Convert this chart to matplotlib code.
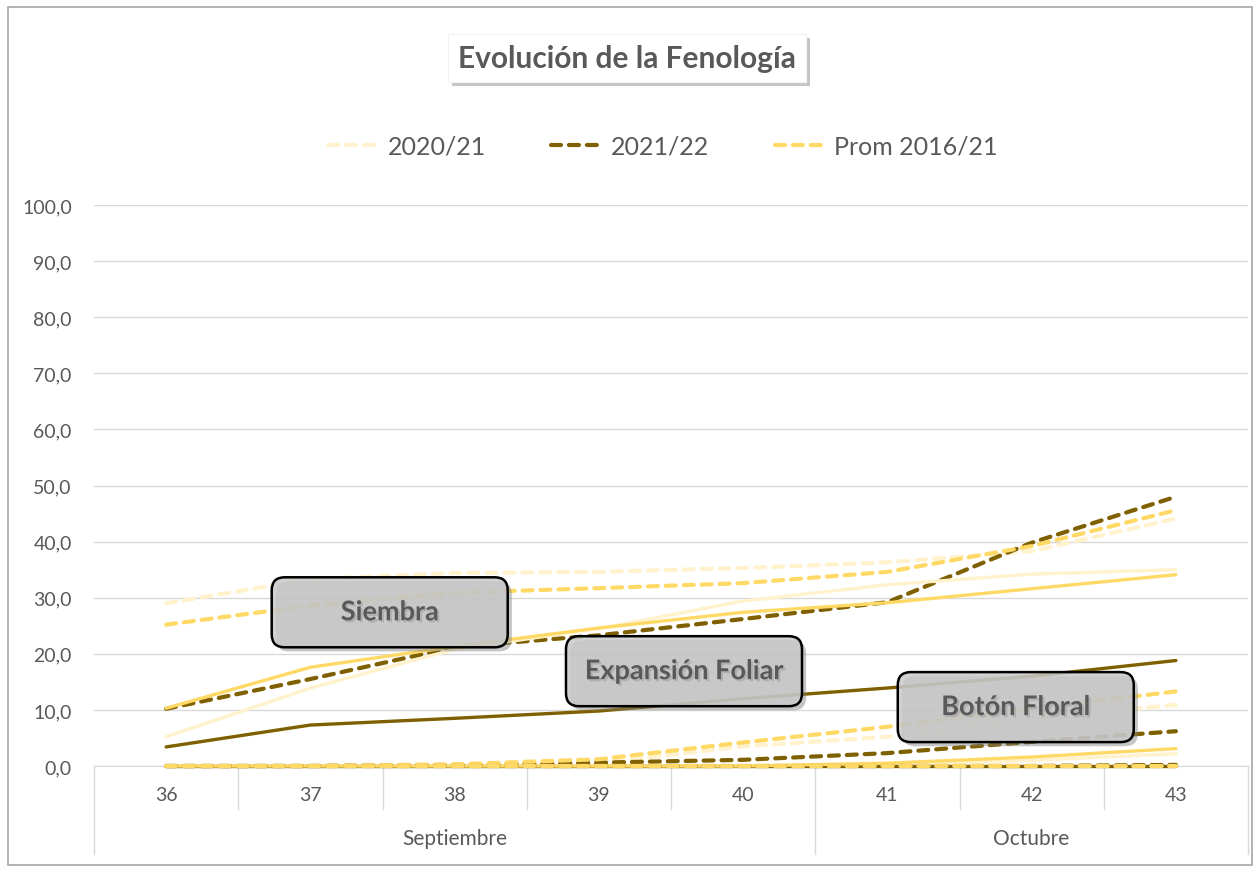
import matplotlib
matplotlib.use("Agg")
import matplotlib.pyplot as plt
import matplotlib.patheffects as pe
from matplotlib.patches import FancyBboxPatch, Rectangle
from matplotlib.lines import Line2D
from matplotlib.transforms import IdentityTransform
from matplotlib.ticker import FuncFormatter

plt.rcParams['font.family'] = ['Lato', 'DejaVu Sans']

# --- datos ---
semanas = ['36', '37', '38', '39', '40', '41', '42', '43']
meses = ['Septiembre', 'Octubre']
semanas_por_mes = [5, 3]
temporadas = ['2020/21', '2021/22', 'Prom 2016/21']

# Siembra (punteadas, arriba)
siembra_2020 = [29.0, 33.3, 34.4, 34.6, 35.3, 36.3, 38.3, 44.1]
siembra_2021 = [10.2, 15.5, 21.2, 23.3, 26.2, 29.2, 39.8, 48.0]
siembra_prom = [25.2, 28.6, 30.9, 31.7, 32.6, 34.6, 39.2, 45.6]

# Emergencia (continuas, medio)
emerg_2020 = [5.2, 13.9, 20.8, 24.5, 29.4, 32.3, 34.2, 35.0]
emerg_2021 = [3.4, 7.3, 8.5, 9.8, 12.0, 13.9, 16.0, 18.8]
emerg_prom = [10.3, 17.6, 21.3, 24.6, 27.4, 29.1, 31.6, 34.1]

# Expansión foliar (punteadas, abajo)
expfol_2020 = [0.0, 0.0, 0.2, 0.5, 3.5, 5.2, 8.5, 10.9]
expfol_2021 = [0.0, 0.0, 0.2, 0.6, 1.1, 2.3, 4.3, 6.2]
expfol_prom = [0.0, 0.0, 0.3, 1.2, 4.2, 7.0, 10.2, 13.3]

# Botón floral (continuas, abajo)
boton_2020 = [0.0, 0.0, 0.0, 0.0, 0.0, 0.2, 1.0, 2.2]
boton_2021 = [0.0, 0.0, 0.0, 0.0, 0.0, 0.0, 0.0, 0.0]
boton_prom = [0.0, 0.0, 0.0, 0.0, 0.0, 0.5, 1.6, 3.1]

# Floración (punteadas, en cero)
flor_2020 = [0.0, 0.0, 0.0, 0.0, 0.0, 0.0, 0.0, 0.0]
flor_2021 = [0.0, 0.0, 0.0, 0.0, 0.0, 0.0, 0.0, 0.2]
flor_prom = [0.0, 0.0, 0.0, 0.0, 0.0, 0.0, 0.0, 0.0]

colores = ['#FFF2CC', '#7F6000', '#FFD966']
gris = '#595959'

grupos = [
    ('--', [siembra_2020, siembra_2021, siembra_prom]),
    ('-', [emerg_2020, emerg_2021, emerg_prom]),
    ('--', [expfol_2020, expfol_2021, expfol_prom]),
    ('-', [boton_2020, boton_2021, boton_prom]),
    ('--', [flor_2020, flor_2021, flor_prom]),
]

etiquetas = [('Siembra', 1.55, 27.4), ('Expansión Foliar', 3.59, 16.9),
             ('Botón Floral', 5.89, 10.5)]

W, H = 1256, 870
fig = plt.figure(figsize=(W / 100, H / 100), dpi=100)
ax = fig.add_axes([94 / W, 1 - 767 / H, (1248 - 94) / W, (767 - 206) / H])

x = list(range(len(semanas)))
for estilo, series in grupos:
    for serie, color in zip(series, colores):
        if estilo == '--':
            ax.plot(x, serie, color=color, lw=3.0, linestyle=(0, (2.4, 1.9)),
                    dash_capstyle='round', zorder=3, clip_on=False)
        else:
            ax.plot(x, serie, color=color, lw=2.4, solid_capstyle='round',
                    zorder=3, clip_on=False)

ax.set_xlim(-0.5, len(semanas) - 0.5)
ax.set_ylim(0, 100)
ax.set_yticks(range(0, 101, 10))
ax.yaxis.set_major_formatter(FuncFormatter(lambda v, p: f'{v:.1f}'.replace('.', ',')))
ax.tick_params(axis='y', length=0, pad=16, labelsize=14, labelcolor=gris)
ax.set_xticks([])
ax.grid(axis='y', color='#D9D9D9', lw=1)
ax.set_axisbelow(True)
for lado in ['left', 'right', 'top']:
    ax.spines[lado].set_visible(False)
ax.spines['bottom'].set_color('#D9D9D9')

# eje de categorías en dos niveles
tr = ax.get_xaxis_transform()
limites_mes = [-0.5]
for n in semanas_por_mes:
    limites_mes.append(limites_mes[-1] + n)
for i in range(len(semanas) + 1):
    b = i - 0.5
    fondo = -0.157 if b in limites_mes else -0.077
    ax.add_line(Line2D([b, b], [0, fondo], transform=tr, color='#D9D9D9',
                       lw=1, clip_on=False))
for i, s in enumerate(semanas):
    ax.text(i, -0.05, s, transform=tr, ha='center', va='center',
            fontsize=14, color=gris)
for j, m in enumerate(meses):
    centro = (limites_mes[j] + limites_mes[j + 1]) / 2
    ax.text(centro, -0.128, m, transform=tr, ha='center', va='center',
            fontsize=15, color=gris)

# leyenda (solo la primera fase)
manijas = [Line2D([], [], color=c, lw=3.0, linestyle=(0, (2.4, 1.9)),
                  dash_capstyle='round') for c in colores]
fig.legend(manijas, temporadas, loc='center', ncol=3, frameon=False,
           bbox_to_anchor=(663 / W, 1 - 147 / H), fontsize=18,
           labelcolor=gris, handlelength=2.1, handletextpad=0.3,
           columnspacing=2.6)

sombra = [pe.withSimplePatchShadow(offset=(3, -3), shadow_rgbFace='#808080', alpha=0.45)]

# título
titulo = FancyBboxPatch((448, H - 83), 358, 48, boxstyle='square,pad=0',
                        transform=IdentityTransform(), facecolor='white',
                        edgecolor='#F2F2F2', lw=0.8, path_effects=sombra)
fig.add_artist(titulo)
fig.text(627 / W, 1 - 59 / H, 'Evolución de la Fenología', ha='center',
         va='center', fontsize=21.5, fontweight='bold', color=gris)

# cajas de fases
fig.canvas.draw()
for texto, xd, yd in etiquetas:
    cx, cy = ax.transData.transform((xd, yd))
    caja = FancyBboxPatch((cx - 118, cy - 35), 236, 70,
                          boxstyle='round,pad=0,rounding_size=13',
                          transform=IdentityTransform(),
                          facecolor=(0.79, 0.79, 0.79, 0.85), edgecolor='black',
                          lw=1.8, zorder=5, path_effects=sombra)
    fig.add_artist(caja)
    fig.text(cx / W, cy / H, texto, ha='center', va='center', fontsize=19.5,
             fontweight='bold', color=gris, zorder=6,
             path_effects=[pe.withSimplePatchShadow(offset=(1.5, -1.5),
                                                    shadow_rgbFace='#9A9A9A',
                                                    alpha=0.5)])

# borde del gráfico
fig.add_artist(Rectangle((8 / W, 4 / H), (1252 - 8) / W, (866 - 8) / H,
                         transform=fig.transFigure, fill=False,
                         edgecolor='#A6A6A6', lw=1.2))

fig.savefig('out.png', dpi=100)
